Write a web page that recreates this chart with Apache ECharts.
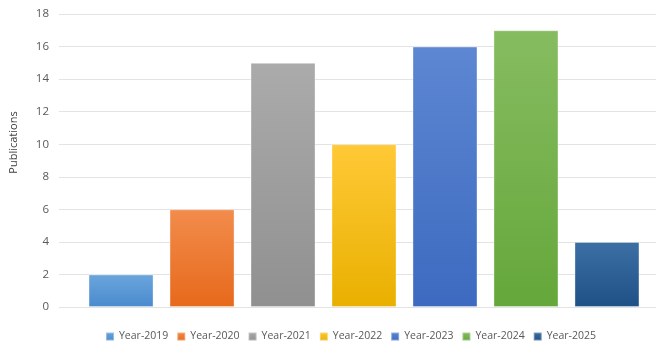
<!DOCTYPE html>
<html>
<head>
<meta charset="utf-8">
<script src="https://cdn.jsdelivr.net/npm/echarts@6/dist/echarts.min.js"></script>
<style>
    html, body { margin: 0; padding: 0; background: #fff; }
    #chart { width: 661px; height: 350px; }
</style>
</head>
<body>
<div id="chart"></div>
<script>
// chart data
var years = ['Year-2019', 'Year-2020', 'Year-2021', 'Year-2022', 'Year-2023', 'Year-2024', 'Year-2025'];
var publications = [2, 6, 15, 10, 16, 17, 4];
var topColors = ['#6aa5dd', '#f28c4c', '#ababab', '#ffc937', '#5d87d2', '#86bc60', '#3c70a4'];
var bottomColors = ['#4a8acd', '#e7691b', '#909090', '#e9b000', '#3d6ac0', '#65a73b', '#1f5087'];
var yTicks = { min: 0, max: 18, interval: 2 };

var chart = echarts.init(document.getElementById('chart'));

var font = "'Open Sans', sans-serif";

var series = years.map(function (name, i) {
    return {
        name: name,
        type: 'bar',
        xAxisIndex: 1,
        yAxisIndex: 1,
        barWidth: 65,
        barGap: '24.6%',
        data: [publications[i]],
        itemStyle: {
            color: new echarts.graphic.LinearGradient(0, 0, 0, 1, [
                { offset: 0, color: topColors[i] },
                { offset: 1, color: bottomColors[i] }
            ]),
            borderColor: 'rgba(255,255,255,0.35)',
            borderWidth: 1
        }
    };
});

var option = {
    backgroundColor: '#ffffff',
    animation: false,
    // grid 0 carries the gridlines and labels, grid 1 the bars
    grid: [
        { left: 55, right: 5, top: 14, bottom: 43 },
        { left: 72, right: 5, top: 14, bottom: 43 }
    ],
    legend: {
        left: 100,
        top: 326,
        icon: 'rect',
        itemWidth: 8,
        itemHeight: 8,
        itemGap: 8,
        textStyle: { color: '#595959', fontSize: 10.5, fontFamily: font },
        data: years
    },
    xAxis: [
        {
            gridIndex: 0, type: 'category', data: [''],
            axisLine: { show: false }, axisTick: { show: false }, axisLabel: { show: false }
        },
        {
            gridIndex: 1, type: 'category', data: [''],
            axisLine: { show: false }, axisTick: { show: false }, axisLabel: { show: false }
        }
    ],
    yAxis: [
        {
            gridIndex: 0,
            type: 'value',
            min: yTicks.min, max: yTicks.max, interval: yTicks.interval,
            name: 'Publications',
            nameLocation: 'middle',
            nameGap: 40,
            nameTextStyle: { color: '#404040', fontSize: 11, fontFamily: font, padding: [0, 0, 0, 36] },
            axisLine: { show: false },
            axisTick: { show: false },
            axisLabel: { color: '#595959', fontSize: 11.5, fontFamily: font, margin: 10 },
            splitLine: { lineStyle: { color: '#e3e3e3', width: 1 } }
        },
        {
            gridIndex: 1,
            type: 'value',
            min: yTicks.min, max: yTicks.max, interval: yTicks.interval,
            axisLine: { show: false }, axisTick: { show: false },
            axisLabel: { show: false }, splitLine: { show: false }
        }
    ],
    series: series
};

chart.setOption(option);
</script>
</body>
</html>
